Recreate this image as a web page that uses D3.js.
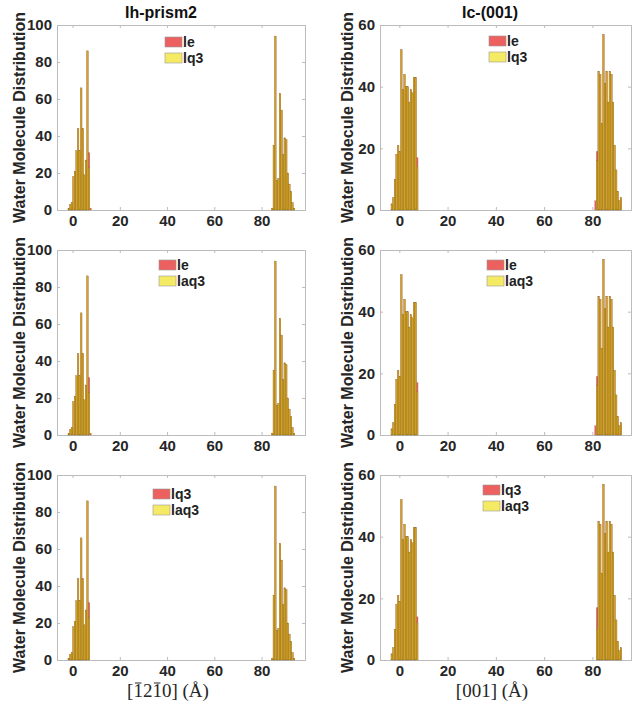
<!DOCTYPE html>
<html>
<head>
<meta charset="utf-8">
<script src="https://cdn.jsdelivr.net/npm/d3@7"></script>
<style>
body { margin: 0; background: #fff; }
text { font-family: "Liberation Sans", Arial, sans-serif; }
</style>
</head>
<body>
<svg width="633" height="701"></svg>
<script>
// histogram bins (angstrom)
var binWidth = 0.66
var ihClusterStart = [-1.95, 84.2]
var ihClusterSize = [15, 15]
var icClusterStart = [-3.45, 80.95]
var icClusterSize = [17, 17]

// Ih-prism2 column (cluster 1 then cluster 2)
var ihYellow = [1, 3, 4, 18, 21, 32, 44, 32, 66, 44, 19, 27, 86, 23, 0,
    1, 35, 94, 16, 17, 63, 54, 30, 39, 38, 20, 14, 10, 4, 1]
var ihRedRow1 = [1, 3, 4, 18, 21, 32, 44, 32, 66, 44, 19, 27, 86, 31, 1,
    1, 35, 94, 16, 17, 63, 54, 30, 39, 38, 20, 14, 10, 4, 1]
var ihRedRow2 = [1, 3, 4, 18, 21, 32, 44, 32, 66, 44, 19, 27, 86, 31, 1,
    1, 35, 94, 16, 17, 63, 54, 30, 39, 38, 20, 14, 10, 4, 1]
var ihRedRow3 = [1, 3, 4, 18, 21, 32, 44, 32, 66, 44, 19, 27, 86, 31, 0,
    1, 35, 94, 16, 17, 63, 54, 30, 39, 38, 20, 14, 10, 4, 1]

// Ic-(001) column
var icYellowRow1 = [2, 4, 10, 18, 21, 19, 52, 39, 44, 40, 40, 35, 39, 38, 43, 43, 14,
    0, 16, 45, 44, 28, 57, 41, 45, 35, 45, 44, 35, 21, 13, 6, 3, 4]
var icRedRow1 = [2, 4, 10, 18, 21, 19, 52, 39, 44, 40, 40, 35, 39, 38, 43, 43, 17,
    3, 19, 45, 44, 28, 57, 41, 45, 35, 45, 44, 35, 21, 13, 6, 3, 4]
var icYellowRow2 = [2, 4, 10, 18, 21, 19, 52, 39, 44, 40, 40, 35, 39, 38, 43, 43, 14,
    0, 16, 45, 44, 28, 57, 41, 45, 35, 45, 44, 35, 21, 13, 6, 3, 4]
var icRedRow2 = [2, 4, 10, 18, 21, 19, 52, 39, 44, 40, 40, 35, 39, 38, 43, 43, 17,
    3, 19, 45, 44, 28, 57, 41, 45, 35, 45, 44, 35, 21, 13, 6, 3, 4]
var icYellowRow3 = [2, 4, 10, 18, 21, 19, 52, 39, 44, 40, 40, 35, 39, 38, 43, 43, 12,
    0, 10, 45, 44, 28, 57, 41, 45, 35, 45, 44, 35, 21, 13, 6, 3, 4]
var icRedRow3 = [2, 4, 10, 18, 21, 19, 52, 39, 44, 40, 40, 35, 39, 38, 43, 43, 14,
    0, 17, 45, 44, 28, 57, 41, 45, 35, 45, 44, 35, 21, 13, 6, 3, 4]

var titles = ["Ih-prism2", "Ic-(001)"]
var xLabels = ["[1210] (\u00c5)", "[001] (\u00c5)"]
var xLabelBars = [[1, 3], []]   // characters drawn with an overbar
var legendRow1 = ["le", "lq3"]
var legendRow2 = ["le", "laq3"]
var legendRow3 = ["lq3", "laq3"]
var xTicks = [0, 20, 40, 60, 80]
var ihYTicks = [0, 20, 40, 60, 80, 100]
var icYTicks = [0, 20, 40, 60]

var svg = d3.select("svg")
var rowTop = [25, 250, 475], plotH = 185
var cols = [
    { left: 57, right: 305, domain: [-6.6, 98.4], ymax: 100, yticks: ihYTicks,
      starts: ihClusterStart, sizes: ihClusterSize, title: titles[0], titleX: 161,
      ylabX: 19, xlab: xLabels[0], bars: xLabelBars[0], xlabX: 168,
      rows: [[ihRedRow1, ihYellow], [ihRedRow2, ihYellow], [ihRedRow3, ihYellow]],
      legend: [[165, 37], [159, 260], [153, 489]] },
    { left: 380, right: 631, domain: [-8, 96], ymax: 60, yticks: icYTicks,
      starts: icClusterStart, sizes: icClusterSize, title: titles[1], titleX: 490,
      ylabX: 347, xlab: xLabels[1], bars: xLabelBars[1], xlabX: 492,
      rows: [[icRedRow1, icYellowRow1], [icRedRow2, icYellowRow2], [icRedRow3, icYellowRow3]],
      legend: [[489, 36], [487, 260], [483, 485]] }
]
var legends = [legendRow1, legendRow2, legendRow3]

function bin_edges(starts, sizes) {
    var edges = []
    for (var c = 0; c < starts.length; c++) {
        for (var i = 0; i < sizes[c]; i++) edges.push(starts[c] + i * binWidth)
    }
    return edges
}

function draw_panel(col, r) {
    var top = rowTop[r]
    var x = d3.scaleLinear().domain(col.domain).range([col.left, col.right])
    var y = d3.scaleLinear().domain([0, col.ymax]).range([top + plotH, top])
    var edges = bin_edges(col.starts, col.sizes)
    var red = col.rows[r][0], yellow = col.rows[r][1]
    var g = svg.append("g")

    // frame + inward ticks on all sides
    var axisCol = "#bcbcbc"
    g.append("g").attr("transform", "translate(0," + (top + plotH) + ")")
        .call(d3.axisBottom(x).tickValues(xTicks).tickSize(-3).tickPadding(5))
    g.append("g").attr("transform", "translate(0," + top + ")")
        .call(d3.axisTop(x).tickValues(xTicks).tickSize(-3).tickFormat(""))
    g.append("g").attr("transform", "translate(" + col.left + ",0)")
        .call(d3.axisLeft(y).tickValues(col.yticks).tickSize(-3).tickPadding(5))
    g.append("g").attr("transform", "translate(" + col.right + ",0)")
        .call(d3.axisRight(y).tickValues(col.yticks).tickSize(-3).tickFormat(""))
    g.selectAll(".domain, .tick line").attr("stroke", axisCol)
    g.selectAll(".tick text").attr("fill", "#262626")
        .style("font-size", "15px").style("font-weight", "bold")
        .style("font-family", "Liberation Sans, Arial, sans-serif")

    var bw = x(binWidth) - x(0)
    g.selectAll("rect.red").data(red).enter().append("rect")
        .attr("x", function (d, i) { return x(edges[i]) })
        .attr("width", bw)
        .attr("y", function (d) { return y(d) })
        .attr("height", function (d) { return y(0) - y(d) })
        .attr("fill", "rgb(232,96,92)")
        .attr("stroke", "rgba(110,60,20,0.45)").attr("stroke-width", 0.35)
    g.selectAll("rect.yel").data(yellow).enter().append("rect")
        .attr("x", function (d, i) { return x(edges[i]) })
        .attr("width", bw)
        .attr("y", function (d) { return y(d) })
        .attr("height", function (d) { return y(0) - y(d) })
        .attr("fill", "rgb(199,203,9)").attr("fill-opacity", 0.6)
        .attr("stroke", "rgba(110,80,20,0.45)").attr("stroke-width", 0.35)

    // legend
    var lp = col.legend[r]
    var labs = legends[r]
    var patchCols = ["rgb(236,96,96)", "rgb(245,234,100)"]
    for (var k = 0; k < 2; k++) {
        g.append("rect").attr("x", lp[0]).attr("y", lp[1] + k * 16)
            .attr("width", 17).attr("height", 10)
            .attr("fill", patchCols[k]).attr("stroke", "#999").attr("stroke-width", 0.6)
        g.append("text").attr("x", lp[0] + 18).attr("y", lp[1] + k * 16 + 10)
            .attr("fill", "#222").style("font-size", "14px").style("font-weight", "bold")
            .text(labs[k])
    }

    // y label
    g.append("text")
        .attr("transform", "translate(" + col.ylabX + "," + (top + plotH / 2) + ") rotate(-90)")
        .attr("text-anchor", "middle").attr("dominant-baseline", "central")
        .attr("fill", "#262626").style("font-size", "16px").style("font-weight", "bold")
        .text("Water Molecule Distribution")
}

cols.forEach(function (col) {
    for (var r = 0; r < 3; r++) draw_panel(col, r)
    svg.append("text").attr("x", col.titleX).attr("y", 18)
        .attr("text-anchor", "middle").attr("fill", "#111")
        .style("font-size", "16px").style("font-weight", "bold")
        .text(col.title)

    var t = svg.append("text").attr("y", 697)
        .attr("fill", "#262626")
        .style("font-family", "Liberation Serif, DejaVu Serif, serif")
        .style("font-size", "19px")
        .text(col.xlab)
    var w = t.node().getComputedTextLength()
    t.attr("x", col.xlabX - w / 2)
    col.bars.forEach(function (i) {
        var e = t.node().getExtentOfChar(i)
        svg.append("line")
            .attr("x1", e.x + 1.5).attr("x2", e.x + e.width - 1.5)
            .attr("y1", e.y + 3).attr("y2", e.y + 3)
            .attr("stroke", "#262626").attr("stroke-width", 1)
    })
})
</script>
</body>
</html>
